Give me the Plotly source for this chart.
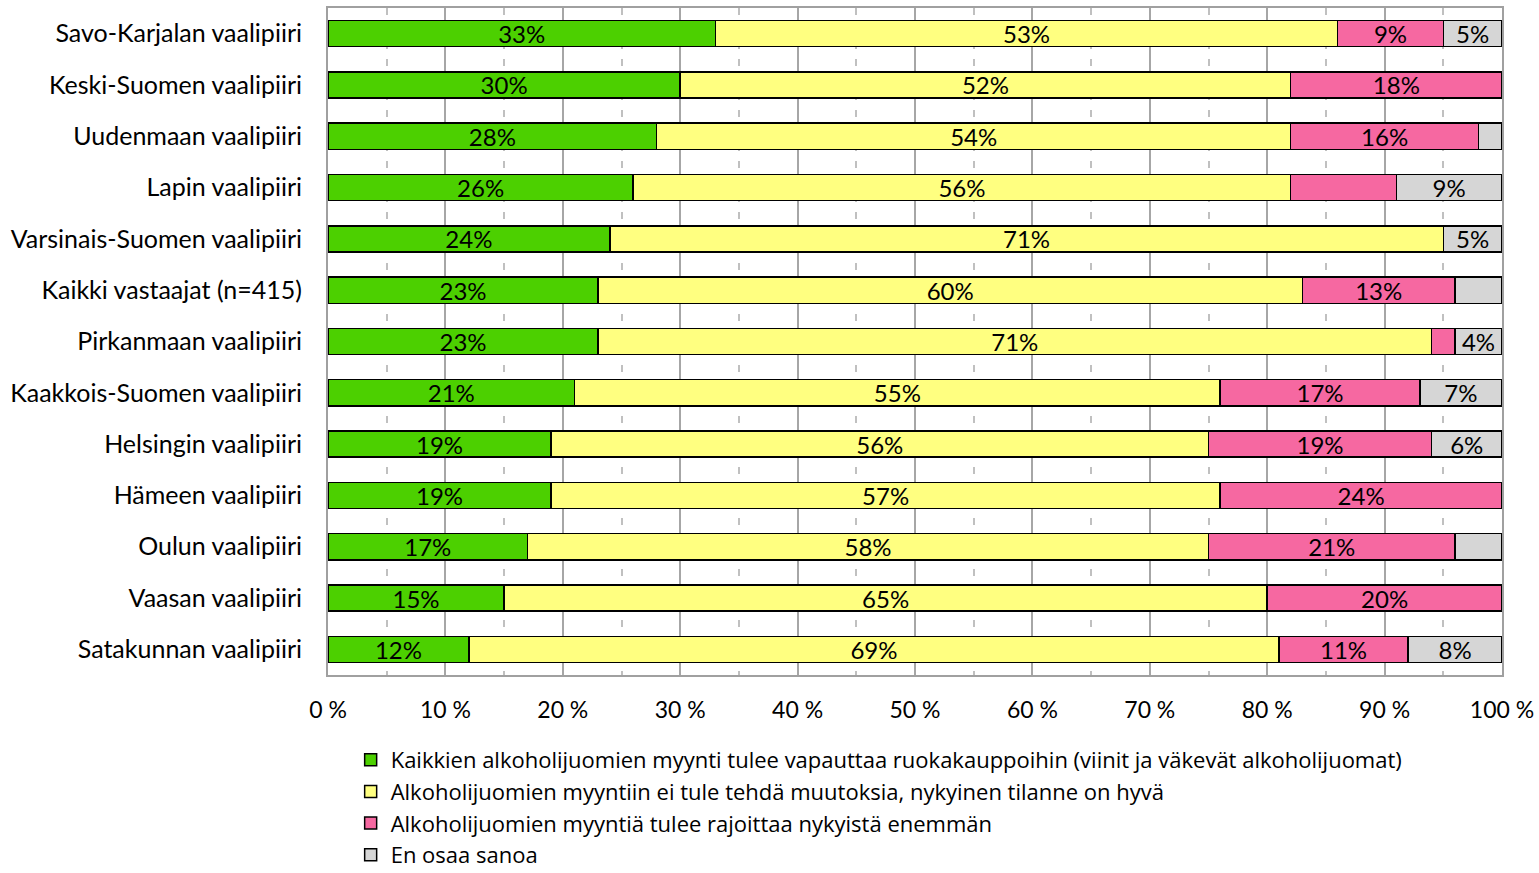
import plotly.graph_objects as go

categories = [
    "Savo-Karjalan vaalipiiri",
    "Keski-Suomen vaalipiiri",
    "Uudenmaan vaalipiiri",
    "Lapin vaalipiiri",
    "Varsinais-Suomen vaalipiiri",
    "Kaikki vastaajat (n=415)",
    "Pirkanmaan vaalipiiri",
    "Kaakkois-Suomen vaalipiiri",
    "Helsingin vaalipiiri",
    "Hämeen vaalipiiri",
    "Oulun vaalipiiri",
    "Vaasan vaalipiiri",
    "Satakunnan vaalipiiri",
]

series_names = [
    "Kaikkien alkoholijuomien myynti tulee vapauttaa ruokakauppoihin (viinit ja väkevät alkoholijuomat)",
    "Alkoholijuomien myyntiin ei tule tehdä muutoksia, nykyinen tilanne on hyvä",
    "Alkoholijuomien myyntiä tulee rajoittaa nykyistä enemmän",
    "En osaa sanoa",
]

vapauttaa = [33, 30, 28, 26, 24, 23, 23, 21, 19, 19, 17, 15, 12]
ei_muutoksia = [53, 52, 54, 56, 71, 60, 71, 55, 56, 57, 58, 65, 69]
rajoittaa = [9, 18, 16, 9, 0, 13, 2, 17, 19, 24, 21, 20, 11]
en_osaa = [5, 0, 2, 9, 5, 4, 4, 7, 6, 0, 4, 0, 8]

# which data labels are shown in the original chart
show_vapauttaa = [1] * 13
show_ei = [1] * 13
show_rajoittaa = [1, 1, 1, 0, 0, 1, 0, 1, 1, 1, 1, 1, 1]
show_en_osaa = [1, 0, 0, 1, 1, 0, 1, 1, 1, 0, 0, 0, 1]

tick_vals = list(range(0, 101, 10))
tick_text = [f"{v} %" for v in tick_vals]

colors = ["#4CD000", "#FFFF80", "#F668A1", "#D6D6D6"]

series_values = [vapauttaa, ei_muutoksia, rajoittaa, en_osaa]
series_show = [show_vapauttaa, show_ei, show_rajoittaa, show_en_osaa]

FONT = "Lato, Carlito, Calibri, sans-serif"
LEG_FONT = "Open Sans, Lato, sans-serif"
FS = 25

fig = go.Figure()
for name, vals, show, col in zip(series_names, series_values, series_show, colors):
    texts = [f"{v}%" if (s and v > 0) else "" for v, s in zip(vals, show)]
    fig.add_trace(go.Bar(
        y=categories, x=vals, name=name, orientation="h",
        marker=dict(color=col, line=dict(color="black", width=1.5)),
        text=texts, textposition="inside", insidetextanchor="middle",
        textangle=0, constraintext="none",
        textfont=dict(family=FONT, size=24, color="black"),
        hoverinfo="x+y+name",
    ))

fig.update_layout(
    barmode="stack",
    bargap=0.49,
    width=1539, height=873,
    margin=dict(l=328, r=37, t=8, b=198, autoexpand=False),
    plot_bgcolor="white", paper_bgcolor="white",
    font=dict(family=FONT, size=FS, color="black"),
    uniformtext=dict(mode=False),
    legend=dict(
        orientation="v", x=0.0193, y=-0.096, xanchor="left", yanchor="top",
        font=dict(family=LEG_FONT, size=22, color="black"),
        traceorder="normal", itemwidth=30,
        bgcolor="rgba(0,0,0,0)",
    ),
    showlegend=True,
)

fig.update_xaxes(
    range=[0, 100], tickvals=tick_vals, ticktext=tick_text,
    showgrid=True, gridcolor="#A6A6A6", gridwidth=1.5,
    minor=dict(dtick=5, showgrid=True, gridcolor="#C0C0C0", griddash="7px,10px", gridwidth=1.5),
    showline=True, linecolor="#A0A0A0", linewidth=2, mirror=True,
    ticks="", ticklabelstandoff=13,
    tickfont=dict(family=FONT, size=23, color="black"),
    zeroline=False, fixedrange=True,
)
fig.update_yaxes(
    autorange="reversed",
    showgrid=False,
    showline=True, linecolor="#A0A0A0", linewidth=2, mirror=True,
    ticks="", ticklabelstandoff=19,
    tickfont=dict(family=FONT, size=FS, color="black"),
    fixedrange=True,
)

# remove the default page margin so the figure fills the window exactly
fig.write_html(
    "out.html",
    config={"displayModeBar": False},
    post_script="document.body.style.margin='0';",
)
